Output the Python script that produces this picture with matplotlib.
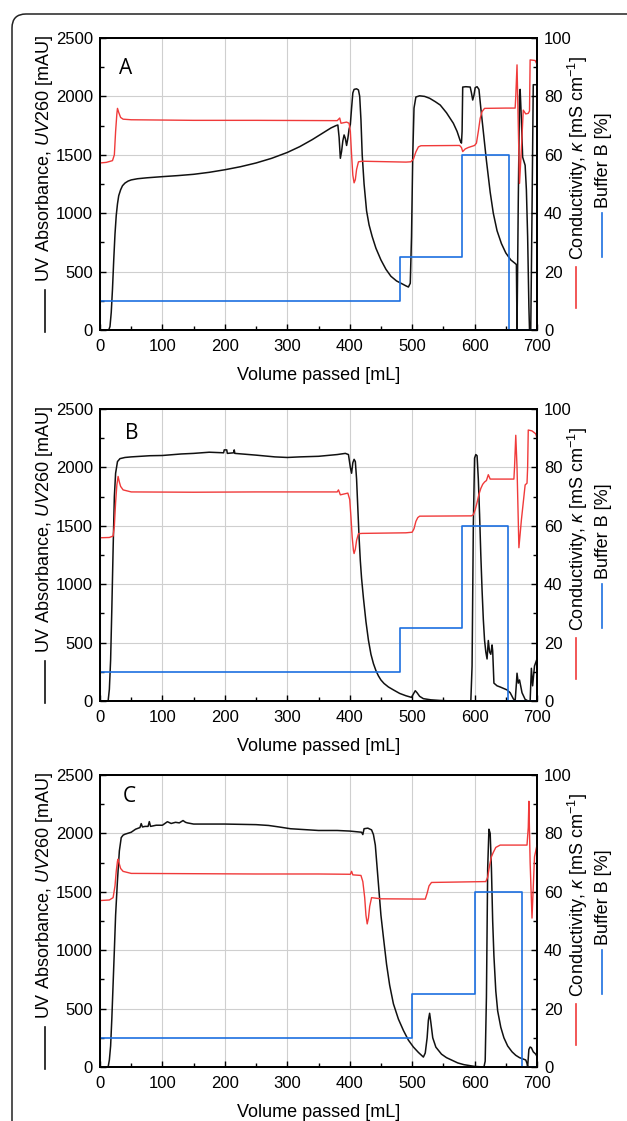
import matplotlib
matplotlib.use('Agg')
import matplotlib.pyplot as plt
from matplotlib.patches import FancyBboxPatch
from matplotlib.ticker import MultipleLocator
from matplotlib.transforms import IdentityTransform

plt.rcParams['font.family'] = ['Liberation Sans', 'DejaVu Sans']
plt.rcParams['mathtext.fontset'] = 'custom'
plt.rcParams['mathtext.rm'] = 'Liberation Sans'
plt.rcParams['mathtext.it'] = 'Liberation Sans:italic'

BLACK = '#111111'
RED = '#f03a3a'
BLUE = '#1c6fe0'

# ---- panel A ----
uv_a_x = [0, 14, 16, 18, 20, 22, 24, 26, 28, 30, 33, 36, 40, 45, 50, 60, 75, 100, 125, 150, 175,
          200, 225, 250, 275, 300, 320, 340, 355, 370, 378, 381, 383, 385, 387, 389, 391, 393, 395,
          397, 399, 401, 403, 405, 407, 411, 414, 416, 418, 420, 423, 427, 431, 436, 442, 450, 458,
          466, 475, 484, 490, 494, 497, 499, 501, 503, 506, 512, 520, 528, 537, 545, 555, 566, 572,
          577, 579, 580, 581, 586, 593, 595, 597, 599, 601, 604, 607, 610, 614, 619, 625, 630, 636,
          643, 650, 658, 665, 667, 668, 670, 672, 673, 675, 677, 681, 683, 685, 687, 688, 690, 692,
          694, 700]
uv_a_y = [0, 0, 30, 150, 350, 600, 820, 980, 1080, 1150, 1200, 1235, 1258, 1275, 1285, 1295, 1303,
          1313, 1322, 1333, 1350, 1372, 1398, 1430, 1470, 1520, 1570, 1630, 1680, 1730, 1750, 1755,
          1650, 1470, 1530, 1620, 1670, 1640, 1580, 1640, 1720, 1760, 1900, 2030, 2060, 2065, 2055,
          2000, 1800, 1500, 1250, 1020, 900, 800, 700, 600, 520, 460, 420, 395, 378, 368, 400, 800,
          1500, 1900, 1995, 2005, 2000, 1984, 1955, 1926, 1860, 1770, 1700, 1620, 1600, 1700, 2080,
          2083, 2080, 2030, 1969, 2010, 2075, 2083, 2060, 1900, 1700, 1450, 1180, 1000, 850, 740,
          660, 600, 570, 560, 0, 1100, 2000, 2060, 1800, 1480, 1410, 1200, 800, 200, 0, 0, 1000,
          2100, 2100]
cond_a_x = [0, 10, 20, 23, 25, 27, 28, 30, 33, 37, 50, 150, 250, 380, 384, 386, 395, 399, 401, 403,
            405, 407, 409, 411, 414, 420, 490, 498, 502, 506, 510, 514, 576, 579, 581, 585, 590, 600,
            603, 606, 609, 612, 616, 650, 665, 666, 668, 670, 672, 675, 678, 682, 686, 688, 689, 697,
            700]
cond_a_y = [57.2, 57.4, 58, 60, 68, 74, 75.9, 74.5, 72.8, 72.2, 72, 71.8, 71.8, 71.7, 72.6, 70.8,
            71.2, 70.8, 68, 60, 53, 50.4, 51.5, 55, 57.6, 57.8, 57.5, 57.6, 58.5, 61, 62.7, 63.1, 63.2,
            62.5, 61.1, 62, 62.5, 63.2, 64, 68, 72.5, 74.8, 75.9, 76, 76, 80, 90.8, 70, 50.2, 62, 75.3,
            74, 74.2, 75, 92.5, 92.3, 91]
buf_a_x = [0, 480, 580, 655, 700]
buf_a_y = [10, 25, 60, 0, 0]

# ---- panel B ----
uv_b_x = [0, 13, 15, 17, 19, 21, 23, 25, 28, 32, 40, 50, 80, 100, 130, 150, 175, 198, 199, 203,
          204, 214, 215, 216, 250, 280, 300, 320, 350, 380, 393, 398, 401, 403, 405, 407, 409, 411,
          413, 415, 417, 419, 422, 426, 430, 434, 438, 442, 446, 450, 455, 462, 470, 480, 490, 499,
          502, 505, 508, 512, 518, 530, 544, 560, 594, 596, 598, 600, 602, 604, 606, 608, 610, 612,
          614, 616, 618, 620, 622, 624, 626, 628, 629, 631, 636, 641, 652, 657, 662, 665, 667, 668,
          670, 672, 676, 681, 686, 689, 691, 693, 696, 698, 700]
uv_b_y = [0, 0, 100, 350, 800, 1300, 1750, 1950, 2050, 2075, 2085, 2090, 2100, 2102, 2115, 2120,
          2130, 2125, 2150, 2150, 2120, 2125, 2150, 2120, 2105, 2090, 2085, 2090, 2095, 2110, 2120,
          2110, 2000, 1950, 2040, 2069, 2050, 1900, 1650, 1400, 1200, 1050, 880, 680, 520, 400, 320,
          260, 215, 180, 150, 120, 95, 65, 45, 31, 60, 88, 70, 40, 20, 10, 5, 1, 0, 300, 1500, 2080,
          2110, 2100, 1900, 1600, 1250, 950, 700, 520, 420, 360, 518, 420, 400, 480, 430, 153, 130,
          120, 95, 71, 20, 0, 150, 238, 153, 180, 71, 14, 0, 0, 280, 130, 300, 330, 360]
cond_b_x = [0, 15, 21, 23, 25, 27, 29, 31, 33, 37, 50, 150, 250, 380, 382, 385, 397, 400, 402, 404,
            406, 407, 409, 411, 414, 420, 490, 500, 503, 506, 509, 512, 595, 598, 601, 604, 607, 610,
            613, 616, 619, 622, 625, 663, 664, 666, 668, 671, 675, 681, 684, 685, 686, 692, 698, 700]
cond_b_y = [55.9, 56, 56.5, 60, 68, 74, 76.9, 75, 73.5, 72.3, 71.6, 71.5, 71.6, 71.6, 72.3, 70.6,
            71.2, 69, 63, 56, 51.5, 50.5, 52, 55, 57.3, 57.4, 57.6, 57.8, 59, 61.5, 62.8, 63.3, 63.4,
            63.8, 65.5, 68, 70.8, 72.8, 74.2, 75, 75.5, 77.5, 76, 76, 80, 91, 80, 52.5, 62, 74, 74.6,
            80, 92.8, 92.5, 91.5, 90]
buf_b_x = [0, 480, 580, 654, 700]
buf_b_y = [10, 25, 60, 0, 0]

# ---- panel C ----
uv_c_x = [0, 13, 15, 17, 19, 21, 23, 25, 28, 31, 34, 37, 40, 50, 57, 64, 66, 68, 72, 77, 79, 81,
          90, 100, 108, 114, 121, 127, 133, 137, 140, 150, 200, 250, 270, 287, 305, 320, 350, 380,
          400, 419, 421, 423, 429, 435, 438, 441, 444, 447, 450, 454, 459, 464, 470, 478, 486, 494,
          502, 510, 518, 521, 524, 526, 528, 530, 533, 538, 547, 555, 563, 573, 583, 600, 615, 617,
          619, 621, 623, 625, 627, 629, 631, 634, 637, 642, 647, 653, 660, 666, 672, 682, 684, 685,
          687, 689, 691, 694, 698, 700]
uv_c_y = [0, 0, 60, 180, 420, 712, 1000, 1300, 1600, 1850, 1964, 1985, 1993, 2010, 2036, 2050, 2084,
          2055, 2060, 2060, 2101, 2060, 2070, 2070, 2100, 2085, 2095, 2090, 2110, 2095, 2090, 2080,
          2080, 2075, 2068, 2055, 2040, 2035, 2025, 2025, 2020, 2010, 1990, 2040, 2045, 2030, 1990,
          1900, 1700, 1500, 1300, 1110, 880, 700, 541, 410, 313, 230, 171, 125, 85, 120, 250, 400,
          460, 380, 250, 170, 110, 80, 60, 35, 20, 5, 0, 50, 600, 1700, 2036, 2000, 1700, 1250, 950,
          650, 480, 340, 250, 180, 130, 100, 80, 60, 30, 0, 150, 171, 165, 130, 110, 90]
cond_c_x = [0, 15, 21, 24, 26, 28, 29, 31, 33, 37, 50, 150, 250, 350, 401, 403, 405, 418, 421, 424,
            426, 428, 430, 432, 435, 450, 521, 524, 527, 531, 618, 621, 624, 627, 630, 634, 641, 684,
            686, 687, 689, 692, 696, 700]
cond_c_y = [57, 57.2, 58, 62, 67, 70.5, 71.2, 69.5, 68, 67, 66.3, 66.2, 66.1, 66.1, 66, 67, 65.8,
            65.6, 63.5, 58, 52, 49, 51, 55, 58, 57.6, 57.5, 59.5, 62, 63.2, 63.5, 65, 69, 72, 73.5,
            75.2, 76, 76, 82, 91, 70, 51, 72, 76]
buf_c_x = [0, 500, 600, 676, 700]
buf_c_y = [10, 25, 60, 0, 0]

panels = [
    ('A', uv_a_x, uv_a_y, cond_a_x, cond_a_y, buf_a_x, buf_a_y, (0.059, 0.894), 330),
    ('B', uv_b_x, uv_b_y, cond_b_x, cond_b_y, buf_b_x, buf_b_y, (0.073, 0.915), 701),
    ('C', uv_c_x, uv_c_y, cond_c_x, cond_c_y, buf_c_x, buf_c_y, (0.066, 0.925), 1067),
]

W, H = 627, 1121
fig = plt.figure(figsize=(W / 100, H / 100), dpi=100)

frame = FancyBboxPatch((12, -60), 720, H - 14 + 60, boxstyle='round,pad=0,rounding_size=14',
                       transform=IdentityTransform(), facecolor='none', edgecolor='#222222',
                       linewidth=1.1)
fig.patches.append(frame)

for letter, ux, uy, cx, cy, bx, by, lpos, bottom_px in panels:
    ax = fig.add_axes([100 / W, 1 - bottom_px / H, 437 / W, 292 / H])
    ax2 = ax.twinx()

    ax.plot(ux, uy, color=BLACK, lw=1.1)
    ax2.plot(cx, cy, color=RED, lw=1.0)
    ax2.plot(bx, by, color=BLUE, lw=1.2, drawstyle='steps-post')

    ax.set_xlim(0, 700)
    ax.set_ylim(0, 2500)
    ax2.set_ylim(0, 100)

    ax.xaxis.set_major_locator(MultipleLocator(100))
    ax.xaxis.set_minor_locator(MultipleLocator(50))
    ax.yaxis.set_major_locator(MultipleLocator(500))
    ax.yaxis.set_minor_locator(MultipleLocator(250))
    ax2.yaxis.set_major_locator(MultipleLocator(20))
    ax2.yaxis.set_minor_locator(MultipleLocator(10))

    ax.grid(True, which='major', color='#cfcfcf', lw=0.8)
    ax.set_axisbelow(True)
    for a in (ax, ax2):
        a.tick_params(which='both', direction='in', labelsize=12, width=1.0)
        a.tick_params(which='major', length=4)
        a.tick_params(which='minor', length=3)
        for s in a.spines.values():
            s.set_linewidth(1.3)
    ax.tick_params(axis='y', pad=5)
    ax.tick_params(axis='x', pad=6.5)
    ax2.tick_params(axis='y', pad=5)

    ax.set_xlabel('Volume passed [mL]', fontsize=13, labelpad=9)

    # axis keys: short coloured line + rotated label
    ax.plot([-0.126, -0.126], [-0.007, 0.137], transform=ax.transAxes, color=BLACK, lw=1.2,
            clip_on=False)
    ax.text(-0.126, 0.164, 'UV Absorbance, $\\mathit{UV260}$ [mAU]', rotation=90, ha='center',
            va='bottom', transform=ax.transAxes, fontsize=13)
    ax.plot([1.089, 1.089], [0.075, 0.216], transform=ax.transAxes, color=RED, lw=1.2,
            clip_on=False)
    ax.text(1.093, 0.240, 'Conductivity, $\\mathit{\\kappa}$ [mS cm$^{-1}$]', rotation=90,
            ha='center', va='bottom', transform=ax.transAxes, fontsize=13)
    ax.plot([1.149, 1.149], [0.25, 0.401], transform=ax.transAxes, color=BLUE, lw=1.2,
            clip_on=False)
    ax.text(1.152, 0.418, 'Buffer B [%]', rotation=90, ha='center', va='bottom',
            transform=ax.transAxes, fontsize=13)

    ax.text(lpos[0], lpos[1], letter, transform=ax.transAxes, ha='center', va='center',
            fontsize=15, family=['Open Sans', 'DejaVu Sans'])

fig.savefig('out.png', dpi=100)
